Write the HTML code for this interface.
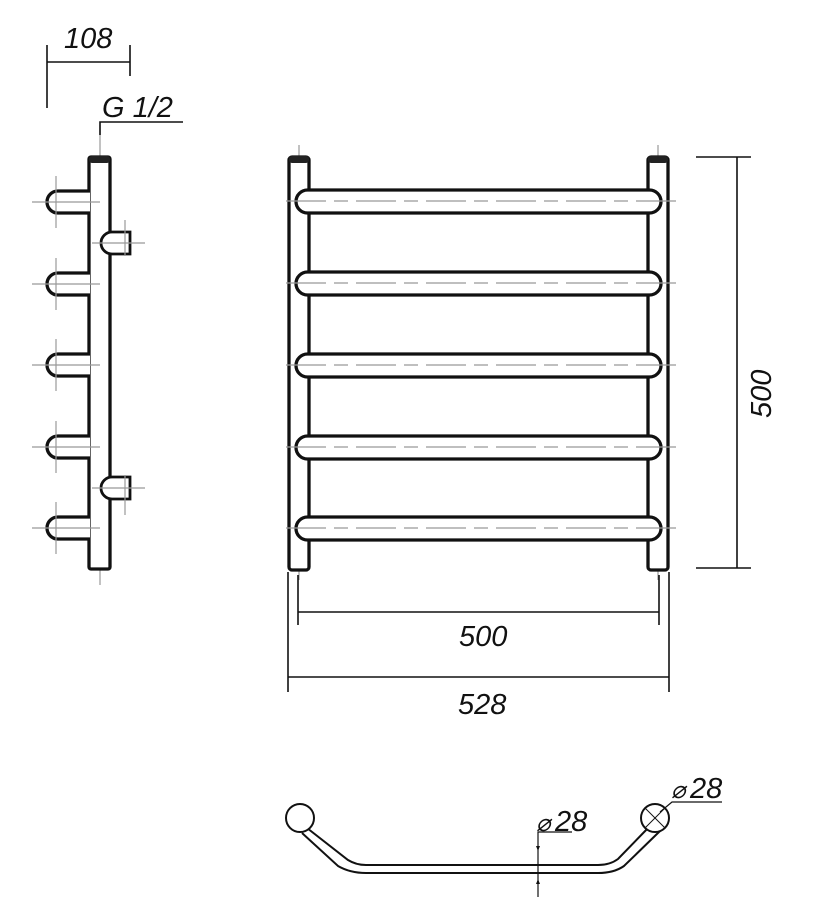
<!DOCTYPE html>
<html><head><style>body{margin:0;background:#fff}svg{display:block}text{font-family:"Liberation Sans",sans-serif;font-style:italic;fill:#111}</style></head>
<body>
<svg width="814" height="914" viewBox="0 0 814 914" xmlns="http://www.w3.org/2000/svg">
<g fill="none" stroke="#999" stroke-width="1.2">
<line x1="299" y1="145" x2="299" y2="580" stroke-dasharray="40 6 8 6"/>
<line x1="658" y1="145" x2="658" y2="580" stroke-dasharray="40 6 8 6"/>
<line x1="100" y1="125" x2="100" y2="585" stroke-dasharray="60 6 8 6"/>
</g>
<g fill="#fff" stroke="#111" stroke-width="3.3">
<rect x="289" y="157" width="20" height="413" rx="3"/>
<rect x="648" y="157" width="20" height="413" rx="3"/>
<rect x="89" y="157" width="21" height="412" rx="2"/>
</g>
<g fill="#222">
<rect x="289" y="156" width="20" height="7" rx="3"/>
<rect x="648" y="156" width="20" height="7" rx="3"/>
<rect x="89" y="156" width="21" height="7" rx="3"/>
</g>
<g fill="#fff" stroke="#111" stroke-width="3.3">
<rect x="296" y="190" width="365" height="23" rx="11.5"/>
<rect x="296" y="272" width="365" height="23" rx="11.5"/>
<rect x="296" y="354" width="365" height="23" rx="11.5"/>
<rect x="296" y="436" width="365" height="23" rx="11.5"/>
<rect x="296" y="517" width="365" height="23" rx="11.5"/>
<path d="M90 191 H58 A11 11 0 0 0 58 213 H90"/>
<path d="M90 273 H58 A11 11 0 0 0 58 295 H90"/>
<path d="M90 354 H58 A11 11 0 0 0 58 376 H90"/>
<path d="M90 436 H58 A11 11 0 0 0 58 458 H90"/>
<path d="M90 517 H58 A11 11 0 0 0 58 539 H90"/>
<path d="M112 232 H130 V254 H112 A11 11 0 0 1 112 232 Z" stroke-width="2.8"/>
<path d="M112 477 H130 V499 H112 A11 11 0 0 1 112 477 Z" stroke-width="2.8"/>
</g>
<g stroke="#999" stroke-width="1.2" fill="none">
<g stroke-dasharray="40 8 14 8">
<line x1="286" y1="201" x2="676" y2="201"/><line x1="286" y1="283" x2="676" y2="283"/>
<line x1="286" y1="365" x2="676" y2="365"/><line x1="286" y1="447" x2="676" y2="447"/>
<line x1="286" y1="528" x2="676" y2="528"/>
</g>
<g>
<line x1="32" y1="202" x2="100" y2="202"/><line x1="56" y1="176" x2="56" y2="228"/>
<line x1="32" y1="284" x2="100" y2="284"/><line x1="56" y1="258" x2="56" y2="310"/>
<line x1="32" y1="365" x2="100" y2="365"/><line x1="56" y1="339" x2="56" y2="391"/>
<line x1="32" y1="447" x2="100" y2="447"/><line x1="56" y1="421" x2="56" y2="473"/>
<line x1="32" y1="528" x2="100" y2="528"/><line x1="56" y1="502" x2="56" y2="554"/>
<line x1="92" y1="243" x2="145" y2="243"/><line x1="125" y1="220" x2="125" y2="256"/>
<line x1="92" y1="488" x2="145" y2="488"/><line x1="125" y1="475" x2="125" y2="515"/>
</g>
</g>
<g stroke="#111" stroke-width="1.6" fill="none">
<line x1="47" y1="45" x2="47" y2="108"/><line x1="130" y1="45" x2="130" y2="76"/>
<line x1="47" y1="62" x2="130" y2="62"/>
<polyline points="100,135 100,122 183,122"/>
<line x1="696" y1="157" x2="751" y2="157"/><line x1="696" y1="568" x2="751" y2="568"/>
<line x1="737" y1="157" x2="737" y2="568"/>
<line x1="298" y1="575" x2="298" y2="625"/><line x1="659" y1="575" x2="659" y2="625"/>
<line x1="298" y1="612" x2="659" y2="612"/>
<line x1="288" y1="572" x2="288" y2="692"/><line x1="669" y1="572" x2="669" y2="692"/>
<line x1="288" y1="677" x2="669" y2="677"/>
</g>
<g font-size="29">
<text x="64" y="48">108</text>
<text x="102" y="117">G 1/2</text>
<text x="459" y="646">500</text>
<text x="458" y="714">528</text>
<text transform="translate(771,418) rotate(-90)">500</text>
</g>
<g fill="none" stroke="#111" stroke-width="2">
<path d="M307 828 L348 860 Q356 865 366 865 L598 865 Q610 865 618 859 L649 827"/>
<path d="M302 833 L338 866 Q350 873 366 873 L598 873 Q614 873 624 866 L660 831"/>
<circle cx="300" cy="818" r="14" fill="#fff"/>
<circle cx="655" cy="818" r="14" fill="#fff"/>
<line x1="645" y1="808" x2="665" y2="828" stroke-width="1"/><line x1="665" y1="808" x2="645" y2="828" stroke-width="1"/>
<polyline points="660,812 672,802 722,802" stroke-width="1.2"/>
<polyline points="538,897 538,832 572,832" stroke-width="1.2"/>
</g>
<path d="M538 851 l-2 -5 h4z M538 879 l-2 5 h4z" fill="#111"/>
<g font-size="29">
<text x="555" y="831">28</text>
<text x="690" y="798">28</text>
</g>
<g font-size="24">
<text x="536" y="831">⌀</text>
<text x="671" y="798">⌀</text>
</g>
</svg>
</body></html>
